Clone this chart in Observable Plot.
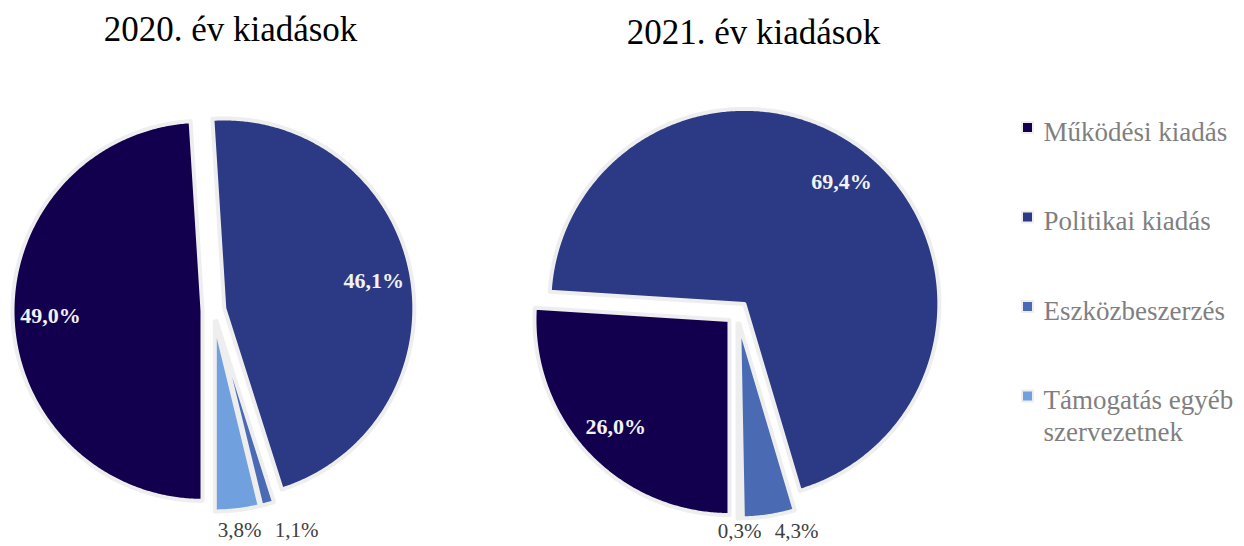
<!DOCTYPE html>
<html>
<head>
<meta charset="utf-8">
<script src="https://cdn.jsdelivr.net/npm/d3@7"></script>
<script src="https://cdn.jsdelivr.net/npm/@observablehq/plot@0.6"></script>
<style>
  html, body { margin: 0; padding: 0; background: #fff; }
  #chart { width: 1244px; height: 546px; }
</style>
</head>
<body>
<div id="chart"></div>
<script>
// ---- data ----
const categories = ["Működési kiadás", "Politikai kiadás", "Eszközbeszerzés", "Támogatás egyéb szervezetnek"];
const colors = ["#12004f", "#2c3985", "#4a6bb3", "#70a1de"];
const years = ["2020", "2021"];
const titles = ["2020. év kiadások", "2021. év kiadások"];
const values2020 = [49.0, 46.1, 1.1, 3.8];
const values2021 = [26.0, 69.4, 4.3, 0.3];
const seriesValues = [values2020, values2021];

// ---- layout (styles / positions, not data) ----
const W = 1244, H = 546;
const FONT = "'Liberation Serif', 'Times New Roman', serif";
const pies = [
  {cx: 213, cy: 310, r: 190, explode: 11, start: 180, titleDx: 17, titleY: 29},
  {cx: 737, cy: 312, r: 195, explode: 11, start: 180, titleDx: 16, titleY: 32}
];
const legend = {x: 1027, textX: 1043, y0: 127, step: 89.5};

const fmt = v => v.toFixed(1).replace(".", ",") + "%";
const rad = a => a * Math.PI / 180;

const slicePts = [], inside = [], outside = [], titleRows = [];
years.forEach((yr, p) => {
  const L = pies[p];
  const vals = seriesValues[p];
  const total = d3.sum(vals);
  let a = L.start;
  const outs = [];
  vals.forEach((v, i) => {
    const a0 = a, a1 = a + v / total * 360;
    a = a1;
    const mid = (a0 + a1) / 2;
    const vx = L.cx + L.explode * Math.sin(rad(mid));
    const vy = L.cy - L.explode * Math.cos(rad(mid));
    const id = yr + "-" + i;
    slicePts.push({id, cat: categories[i], x: vx, y: vy});
    const n = Math.max(2, Math.ceil((a1 - a0) / 0.5));
    for (let k = 0; k <= n; k++) {
      const t = a0 + (a1 - a0) * k / n;
      slicePts.push({id, cat: categories[i], x: vx + L.r * Math.sin(rad(t)), y: vy - L.r * Math.cos(rad(t))});
    }
    if (v >= 5) {
      inside.push({text: fmt(v), x: vx + 0.8 * L.r * Math.sin(rad(mid)), y: vy - 0.8 * L.r * Math.cos(rad(mid))});
    } else {
      outs.push({text: fmt(v), x: vx + 1.1 * L.r * Math.sin(rad(mid)),
        y: Math.min(H - 15, L.cy + L.explode + 1.1 * L.r)});
    }
  });
  outs.sort((u, w) => u.x - w.x);
  for (let k = 1; k < outs.length; k++) outs[k].x = Math.max(outs[k].x, outs[k - 1].x + 57);
  outside.push(...outs);
  titleRows.push({text: titles[p], x: L.cx + L.titleDx, y: L.titleY});
});

const wrap = s => s.length > 20 ? s.replace(/ (\S+)$/, "\n$1") : s;
const legendRows = categories.map((c, i) => ({cat: c, label: wrap(c), y: legend.y0 + i * legend.step}));

const chart = Plot.plot({
  width: W, height: H, margin: 0,
  x: {domain: [0, W], range: [0, W], axis: null},
  y: {domain: [0, H], range: [0, H], axis: null},
  color: {domain: categories, range: colors},
  style: {fontFamily: FONT, background: "#fff"},
  marks: [
    Plot.line(slicePts, {x: "x", y: "y", z: "id", fill: "cat", stroke: "#eeeeee", strokeWidth: 4,
      strokeLinejoin: "round", curve: "linear-closed"}),
    Plot.text(inside, {x: "x", y: "y", text: "text", fill: "#f2f2f2", fontWeight: "bold", fontSize: 22,
      fontFamily: FONT, textAnchor: "middle", lineAnchor: "middle"}),
    Plot.text(outside, {x: "x", y: "y", text: "text", fill: "#404040", fontSize: 21,
      fontFamily: FONT, textAnchor: "middle", lineAnchor: "middle"}),
    Plot.text(titleRows, {x: "x", y: "y", text: "text", fill: "#000", fontSize: 35,
      fontFamily: FONT, textAnchor: "middle", lineAnchor: "middle"}),
    Plot.dot(legendRows, {x: () => legend.x, y: "y", fill: "cat", symbol: "square", r: 6.2,
      stroke: "#eeeeee", strokeWidth: 2}),
    Plot.text(legendRows, {x: () => legend.textX, y: d => d.y - 10, text: "label", fill: "#7f7f7f", fontSize: 27,
      fontFamily: FONT, textAnchor: "start", lineAnchor: "top", lineHeight: 1.2})
  ]
});
document.getElementById("chart").appendChild(chart);
</script>
</body>
</html>
